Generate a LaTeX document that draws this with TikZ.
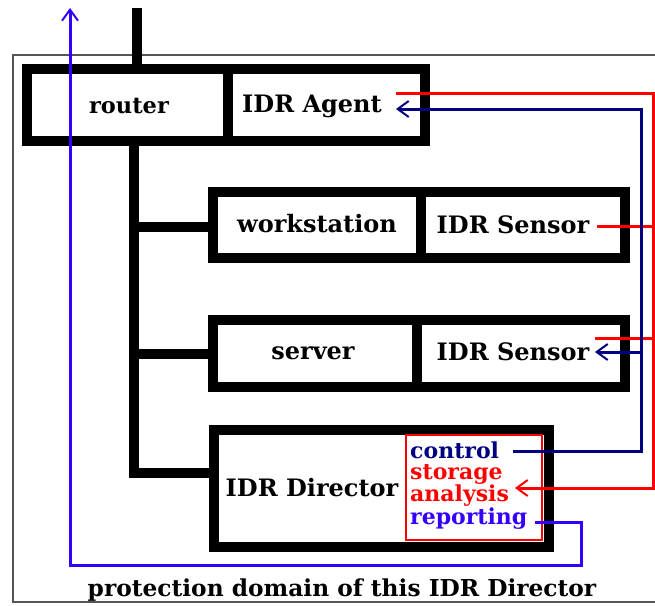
\documentclass[tikz,border=0pt]{standalone}
\usepackage{fontspec}
\setmainfont{DejaVu Serif}
\usetikzlibrary{arrows.meta}
\definecolor{navy}{HTML}{000080}
\definecolor{rptblue}{HTML}{3300FF}
\definecolor{framegray}{HTML}{555555}
\tikzset{
  box/.style={line width=10pt, line join=miter},
  bus/.style={line width=10pt, line join=miter},
  lbl/.style={font=\bfseries\fontsize{24}{26}\selectfont, inner sep=0pt},
  sub/.style={font=\bfseries\fontsize{22}{22}\selectfont, inner sep=0pt, anchor=base west, text height=15pt, text depth=4.5pt},
  flow/.style={line width=3pt, line join=miter},
  tip/.style={-{Straight Barb[length=11pt,width=16pt,line width=2pt]}},
}
\begin{document}
\begin{tikzpicture}[x=1pt,y=-1pt]
\useasboundingbox (0,0) rectangle (655,605);
% frame
\draw[framegray, line width=2pt] (657,55) -- (13,55) -- (13,602) -- (657,602);
% network bus
\draw[bus] (136.5,8) -- (136.5,69);
\draw[bus] (134,141) -- (134,473) -- (214,473);
\draw[bus] (134,227) -- (213,227);
\draw[bus] (134,354) -- (213,354);
% boxes
\draw[box] (27,69) rectangle (425,141);
\draw[box] (227.5,69) -- (227.5,141);
\draw[box] (213,192) rectangle (625,258);
\draw[box] (421,192) -- (421,258);
\draw[box] (213,320) rectangle (625,387);
\draw[box] (417,320) -- (417,387);
\draw[box] (214,430) rectangle (549,547);
\draw[red, line width=1.5pt] (406,435) rectangle (542,540);
% labels
\node[lbl, font=\bfseries\fontsize{22.5}{26}\selectfont] (router) at (129,106) {router};
\node[lbl] (agent) at (312,106) {IDR Agent};
\node[lbl] (ws) at (317,224) {workstation};
\node[lbl] (wssens) at (513,225) {IDR Sensor};
\node[lbl] (server) at (313,353) {server};
\node[lbl] (srvsens) at (513,352) {IDR Sensor};
\node[lbl] (director) at (312,488) {IDR Director};
\node[sub, text=navy] (control) at (410,458) {control};
\node[sub, text=red] (storage) at (410,479) {storage};
\node[sub, text=red] (analysis) at (410,501) {analysis};
\node[sub, text=rptblue] (reporting) at (410,524) {reporting};
\node[lbl, font=\bfseries\fontsize{23.3}{26}\selectfont] (domain) at (342,590) {protection domain of this IDR Director};
% connector end points
\coordinate (agentR) at (396,93);
\coordinate (agentC) at (396,109);
\coordinate (wsR) at (597,226);
\coordinate (srvR) at (595,338);
\coordinate (srvC) at (595,352);
\coordinate (ctlR) at (513,451);
\coordinate (anaR) at (515,488);
\coordinate (rptR) at (535,522);
\coordinate (exit) at (70,8);
% red (storage) lines
\draw[flow, red, tip] (agentR) -- (653,93) -- (653,488) -- (anaR);
\draw[flow, red] (wsR) -- (653,226);
\draw[flow, red] (srvR) -- (653,338);
% navy (control) lines
\draw[flow, navy, tip] (ctlR) -- (641,451) -- (641,109) -- (agentC);
\draw[flow, navy, tip] (641,352) -- (srvC);
% blue (reporting) line
\draw[flow, rptblue, tip] (rptR) -- (581,522) -- (581,565) -- (70,565) -- (exit);
\end{tikzpicture}
\end{document}
